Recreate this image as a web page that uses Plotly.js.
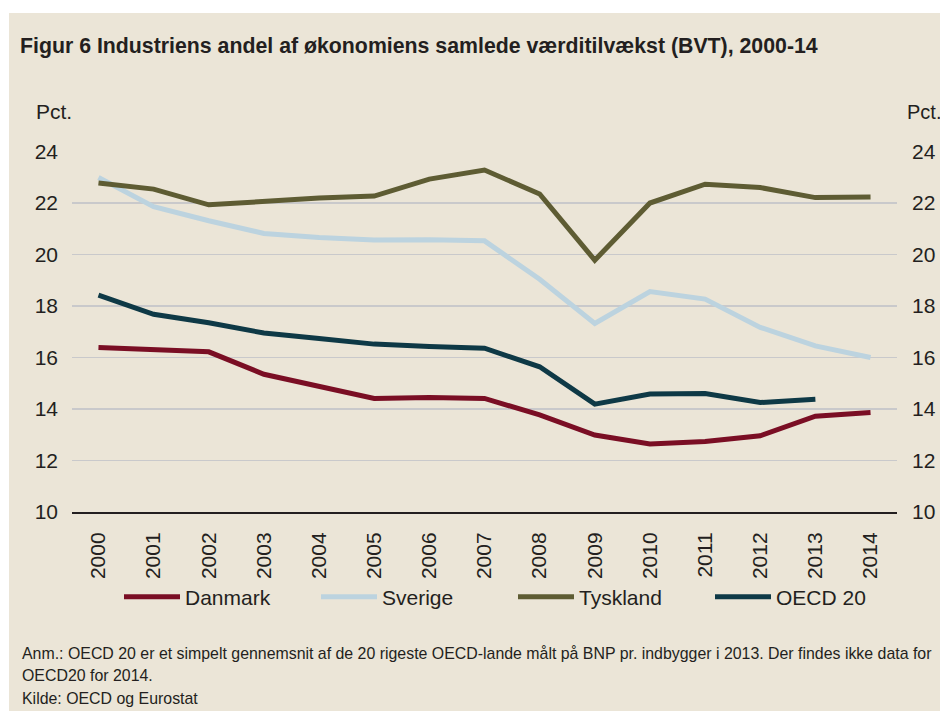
<!DOCTYPE html>
<html>
<head>
<meta charset="utf-8">
<script src="https://cdn.plot.ly/plotly-3.0.1.min.js"></script>
<style>
  html, body { margin: 0; padding: 0; background: #ffffff; width: 940px; height: 711px; overflow: hidden; }
  #chart { position: absolute; left: 9px; top: 13px; width: 931px; height: 698px; }
</style>
</head>
<body>
<div id="chart"></div>
<script>
const years = [2000, 2001, 2002, 2003, 2004, 2005, 2006, 2007, 2008, 2009, 2010, 2011, 2012, 2013, 2014];
const yearLabels = years.map(String);
const danmark  = [16.39, 16.30, 16.22, 15.35, 14.86, 14.41, 14.45, 14.41, 13.77, 12.99, 12.64, 12.74, 12.96, 13.72, 13.86];
const sverige  = [22.99, 21.86, 21.31, 20.82, 20.66, 20.56, 20.57, 20.53, 19.04, 17.32, 18.56, 18.27, 17.17, 16.45, 16.00];
const tyskland = [22.78, 22.54, 21.93, 22.06, 22.19, 22.27, 22.93, 23.28, 22.35, 19.78, 22.00, 22.73, 22.60, 22.21, 22.23];
const oecd20   = [18.42, 17.68, 17.35, 16.95, 16.74, 16.52, 16.43, 16.36, 15.64, 14.19, 14.58, 14.60, 14.25, 14.38, null];
const seriesNames = ['Danmark', 'Sverige', 'Tyskland', 'OECD 20'];
const yTicks = [10, 12, 14, 16, 18, 20, 22, 24];
const noteLines = [
  'Anm.: OECD 20 er et simpelt gennemsnit af de 20 rigeste OECD-lande målt på BNP pr. indbygger i 2013. Der findes ikke data for',
  'OECD20 for 2014.',
  'Kilde: OECD og Eurostat'
];

const colors = ['#7A0E24', '#BCD3DF', '#5E5C33', '#0E3946'];
const seriesData = [danmark, sverige, tyskland, oecd20];
const textColor = '#231F20';
const font = 'Arial, "Liberation Sans", sans-serif';

const traces = seriesData.map((vals, i) => ({
  type: 'scatter',
  mode: 'lines',
  x: years,
  y: vals,
  name: seriesNames[i],
  line: { color: colors[i], width: 5, shape: 'linear' },
  connectgaps: false,
  hoverinfo: 'skip'
}));
// invisible trace to bind the right axis
traces.push({
  type: 'scatter', mode: 'lines', x: years, y: danmark, yaxis: 'y2',
  line: { color: 'rgba(0,0,0,0)', width: 0 }, showlegend: false, hoverinfo: 'skip'
});

// plot area in div pixels: x 63..888, y 138..499
const PL = 63, PW = 825, PT = 138, PH = 361;
const px = (x) => (x - PL) / PW;
const py = (y) => (PT + PH - y) / PH;

const noteY = [640, 662, 685];
const notes = noteLines.map((t, i) => ({
  text: t, xref: 'paper', yref: 'paper', x: px(11), y: py(noteY[i]),
  xanchor: 'left', yanchor: 'middle', showarrow: false,
  font: { family: font, size: 15.9, color: textColor }
}));

const layout = {
  width: 931,
  height: 698,
  paper_bgcolor: '#EBE5D7',
  plot_bgcolor: '#EBE5D7',
  margin: { l: 63, r: 43, t: 138, b: 199, pad: 0 },
  font: { family: font, color: textColor, size: 21 },
  title: {
    text: '<b>Figur 6 Industriens andel af økonomiens samlede værditilvækst (BVT), 2000-14</b>',
    font: { family: font, size: 21.3, color: textColor },
    xref: 'container', yref: 'container',
    x: 11 / 931, xanchor: 'left',
    y: 1 - 33 / 698, yanchor: 'middle'
  },
  showlegend: true,
  legend: {
    orientation: 'h',
    xref: 'container', yref: 'container',
    x: 110 / 931, xanchor: 'left',
    y: 1 - 584 / 698, yanchor: 'middle',
    bgcolor: 'rgba(0,0,0,0)',
    font: { family: font, size: 21, color: textColor },
    entrywidth: 126,
    entrywidthmode: 'pixels',
    itemwidth: 56,
    traceorder: 'normal'
  },
  xaxis: {
    type: 'linear',
    range: [1999.52, 2014.48],
    tickmode: 'array',
    tickvals: years,
    ticktext: yearLabels,
    tickangle: -90,
    ticks: '',
    showgrid: false,
    zeroline: false,
    showline: true,
    linecolor: '#231F20',
    linewidth: 2,
    ticklabelstandoff: 10,
    tickfont: { family: font, size: 21, color: textColor },
    fixedrange: true
  },
  yaxis: {
    range: [10, 24.02],
    tickmode: 'array',
    tickvals: yTicks,
    ticktext: yTicks.map(String),
    ticks: '',
    showgrid: true,
    gridcolor: '#C9C9CB',
    gridwidth: 1.5,
    zeroline: false,
    showline: false,
    ticklabelstandoff: 13,
    tickfont: { family: font, size: 21, color: textColor },
    fixedrange: true
  },
  yaxis2: {
    overlaying: 'y',
    side: 'right',
    range: [10, 24.02],
    tickmode: 'array',
    tickvals: yTicks,
    ticktext: yTicks.map(String),
    ticks: '',
    showgrid: false,
    zeroline: false,
    showline: false,
    ticklabelstandoff: 14,
    tickfont: { family: font, size: 21, color: textColor },
    fixedrange: true
  },
  annotations: [
    { text: 'Pct.', xref: 'paper', yref: 'paper', x: px(25), y: py(99),
      xanchor: 'left', yanchor: 'middle', showarrow: false,
      font: { family: font, size: 21, color: textColor } },
    { text: 'Pct.', xref: 'paper', yref: 'paper', x: px(896), y: py(99),
      xanchor: 'left', yanchor: 'middle', showarrow: false,
      font: { family: font, size: 20, color: textColor } }
  ].concat(notes)
};

Plotly.newPlot('chart', traces, layout, { displayModeBar: false, staticPlot: true });
</script>
</body>
</html>
